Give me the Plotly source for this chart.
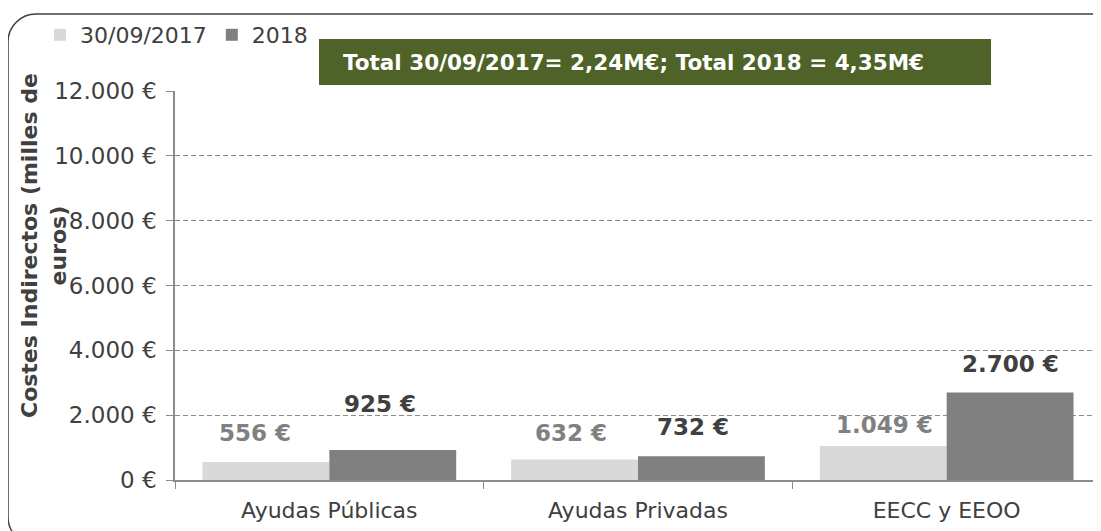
import plotly.graph_objects as go

categories = ["Ayudas Públicas", "Ayudas Privadas", "EECC y EEOO"]
series_names = ["30/09/2017", "2018"]
values_2017 = [556, 632, 1049]
values_2018 = [925, 732, 2700]
labels_2017 = ["556 €", "632 €", "1.049 €"]
labels_2018 = ["925 €", "732 €", "2.700 €"]
y_tickvals = [0, 2000, 4000, 6000, 8000, 10000, 12000]
y_ticktext = ["0 €", "2.000 €", "4.000 €", "6.000 €", "8.000 €", "10.000 €", "12.000 €"]
y_title = "Costes Indirectos (milles de<br>euros)"
box_text = "Total 30/09/2017= 2,24M€; Total 2018 = 4,35M€"

# layout constants (pixels, in window coordinates; the page body adds an 8px offset)
OFF = 8
W, H = 1101 - OFF, 531 - OFF
PLOT_L, PLOT_T, PLOT_B = 175, 91, 480
ML = PLOT_L - OFF
MT = PLOT_T - OFF
MR = 0
MB = 531 - PLOT_B
PW = W - ML - MR
PH = H - MT - MB

def px(x):
    return (x - OFF - ML) / PW

def py(y):
    return (H - MB - (y - OFF)) / PH

FONT = "DejaVu Sans"
DARK = "#404040"
GRAY = "#808080"
LIGHT = "#D9D9D9"

fig = go.Figure()
fig.add_trace(go.Bar(x=categories, y=values_2017, name=series_names[0],
                     marker=dict(color=LIGHT, line=dict(width=0)), offsetgroup="a"))
fig.add_trace(go.Bar(x=categories, y=values_2018, name=series_names[1],
                     marker=dict(color=GRAY, line=dict(width=0)), offsetgroup="b"))

# data label placement offsets (style only)
half = 0.2055
shift_2017 = [(-11, 29), (-4, 27), (1, 21)]
shift_2018 = [(-13, 46), (-8, 29), (0, 28)]
annotations = []
for i, (v, t) in enumerate(zip(values_2017, labels_2017)):
    annotations.append(dict(x=i - half, y=v, xref="x", yref="y", text=t, showarrow=False,
                            xshift=shift_2017[i][0], yshift=shift_2017[i][1],
                            yanchor="middle", xanchor="center",
                            font=dict(family=FONT, size=23, color=GRAY, weight="bold")))
for i, (v, t) in enumerate(zip(values_2018, labels_2018)):
    annotations.append(dict(x=i + half, y=v, xref="x", yref="y", text=t, showarrow=False,
                            xshift=shift_2018[i][0], yshift=shift_2018[i][1],
                            yanchor="middle", xanchor="center",
                            font=dict(family=FONT, size=23, color=DARK, weight="bold")))

# y axis title (placed like the original, overlapping tick labels)
annotations.append(dict(x=px(44), y=py(246), xref="paper", yref="paper", text=y_title,
                        showarrow=False, textangle=-90, xanchor="center", yanchor="middle",
                        font=dict(family=FONT, size=22, color=DARK, weight="bold")))
# green total box text
annotations.append(dict(x=px(341), y=py(62), xref="paper", yref="paper", text=box_text,
                        showarrow=False, xanchor="left", yanchor="middle",
                        font=dict(family=FONT, size=21.5, color="white", weight="bold")))

# rounded chart frame
x0, y0, x1, y1, r = 8, 14, 1121, 545, 28
frame_path = (
    f"M {px(x0)},{py(y0 + r)} "
    f"C {px(x0)},{py(y0 + r*0.45)} {px(x0 + r*0.45)},{py(y0)} {px(x0 + r)},{py(y0)} "
    f"L {px(x1 - r)},{py(y0)} "
    f"C {px(x1 - r*0.45)},{py(y0)} {px(x1)},{py(y0 + r*0.45)} {px(x1)},{py(y0 + r)} "
    f"L {px(x1)},{py(y1 - r)} "
    f"C {px(x1)},{py(y1 - r*0.45)} {px(x1 - r*0.45)},{py(y1)} {px(x1 - r)},{py(y1)} "
    f"L {px(x0 + r)},{py(y1)} "
    f"C {px(x0 + r*0.45)},{py(y1)} {px(x0)},{py(y1 - r*0.45)} {px(x0)},{py(y1 - r)} Z"
)
shapes = [
    dict(type="path", path=frame_path, xref="paper", yref="paper",
         line=dict(color=DARK, width=1.5), fillcolor="rgba(0,0,0,0)", layer="below"),
    dict(type="rect", xref="paper", yref="paper", x0=px(319), x1=px(991), y0=py(85), y1=py(39),
         fillcolor="#4F6228", line=dict(width=0), layer="above"),
]

fig.update_layout(
    width=W, height=H,
    margin=dict(l=ML, r=MR, t=MT, b=MB, pad=0),
    paper_bgcolor="white", plot_bgcolor="white",
    font=dict(family=FONT, size=22, color=DARK),
    barmode="group", bargap=0.178, bargroupgap=0,
    showlegend=True,
    legend=dict(orientation="h", x=px(40), y=py(14), xanchor="left", yanchor="top",
                font=dict(family=FONT, size=22, color=DARK), bgcolor="rgba(0,0,0,0)",
                itemwidth=30, traceorder="normal", itemclick=False),
    xaxis=dict(type="category", range=[-0.5, 2.5], showgrid=False,
               showline=True, linecolor="#8C8C8C", linewidth=1.5,
               ticks="outside", tickson="boundaries", ticklen=7, tickcolor="#8C8C8C",
               ticklabelstandoff=10,
               tickfont=dict(family=FONT, size=22, color=DARK), fixedrange=True),
    yaxis=dict(range=[0, 12000], tickvals=y_tickvals, ticktext=y_ticktext,
               showgrid=True, gridcolor="#8C8C8C", gridwidth=1, griddash="5px,3px",
               showline=True, linecolor="#8C8C8C", linewidth=1.5,
               ticks="outside", ticklen=7, tickcolor="#8C8C8C", ticklabelstandoff=5,
               zeroline=False,
               tickfont=dict(family=FONT, size=23, color=DARK), fixedrange=True),
    annotations=annotations,
    shapes=shapes,
)

fig.write_html("out.html", config={"displayModeBar": False})
